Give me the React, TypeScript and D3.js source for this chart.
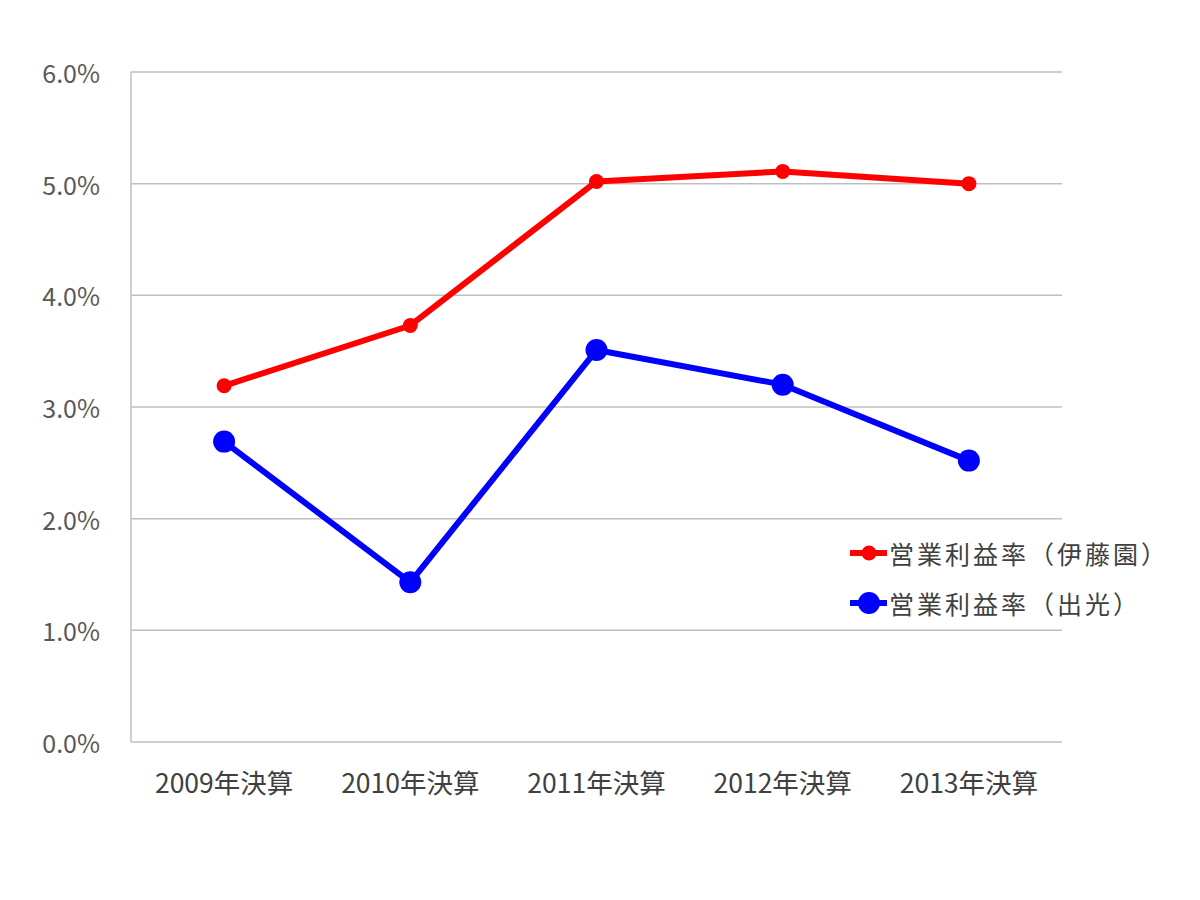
import React from "react";
import * as d3 from "d3";

const categories = ["2009年決算", "2010年決算", "2011年決算", "2012年決算", "2013年決算"];
const itoenValues = [3.19, 3.73, 5.02, 5.11, 5.0];
const idemitsuValues = [2.69, 1.43, 3.51, 3.2, 2.52];
const yTicks = [0, 1, 2, 3, 4, 5, 6];
const seriesNames = ["営業利益率（伊藤園）", "営業利益率（出光）"];

const W = 1200;
const H = 900;
const left = 131;
const right = 1062;
const top = 72;
const bottom = 742;

export default function App() {
  const x = d3.scaleBand<string>().domain(categories).range([left, right]).padding(0);
  const y = d3.scaleLinear().domain([0, 6]).range([bottom, top]);
  const cx = (c: string) => (x(c) as number) + x.bandwidth() / 2;
  const line = d3
    .line<number>()
    .x((_, i) => cx(categories[i]))
    .y((d) => y(d));

  const series = [
    { name: seriesNames[0], values: itoenValues, color: "#FF0000", r: 7.5 },
    { name: seriesNames[1], values: idemitsuValues, color: "#0000FF", r: 11 },
  ];
  const font = "'Noto Sans CJK JP', 'Noto Sans', sans-serif";

  return (
    <svg
      width={W}
      height={H}
      style={{ position: "absolute", left: 0, top: 0, background: "#fff" }}
      fontFamily={font}
    >
      <rect x={0} y={0} width={W} height={H} fill="#fff" />
      {yTicks.map((t) => (
        <g key={t}>
          <line x1={left} x2={right} y1={y(t)} y2={y(t)} stroke="#BFBFBF" strokeWidth={1.5} />
          <text
            x={100}
            y={y(t)}
            textAnchor="end"
            dominantBaseline="central"
            fontSize={25}
            fill="#595959"
          >
            {t.toFixed(1) + "%"}
          </text>
        </g>
      ))}
      <line x1={left} x2={left} y1={top} y2={bottom} stroke="#BFBFBF" strokeWidth={1.5} />
      {categories.map((c) => (
        <text
          key={c}
          x={cx(c)}
          y={781}
          textAnchor="middle"
          dominantBaseline="central"
          fontSize={26.5}
          fill="#404040"
        >
          {c}
        </text>
      ))}
      {series.map((s) => (
        <g key={s.name}>
          <path d={line(s.values) || ""} fill="none" stroke={s.color} strokeWidth={6} strokeLinejoin="round" />
          {s.values.map((v, i) => (
            <circle key={i} cx={cx(categories[i])} cy={y(v)} r={s.r} fill={s.color} />
          ))}
        </g>
      ))}
      {series.map((s, i) => {
        const ly = 553 + i * 50;
        return (
          <g key={"lg" + i}>
            <line x1={850} x2={887} y1={ly} y2={ly} stroke={s.color} strokeWidth={6} />
            <circle cx={869} cy={ly} r={s.r} fill={s.color} />
            <text
              x={889}
              y={ly}
              dominantBaseline="central"
              fontSize={25}
              fill="#404040"
              letterSpacing={3}
            >
              {s.name}
            </text>
          </g>
        );
      })}
    </svg>
  );
}
